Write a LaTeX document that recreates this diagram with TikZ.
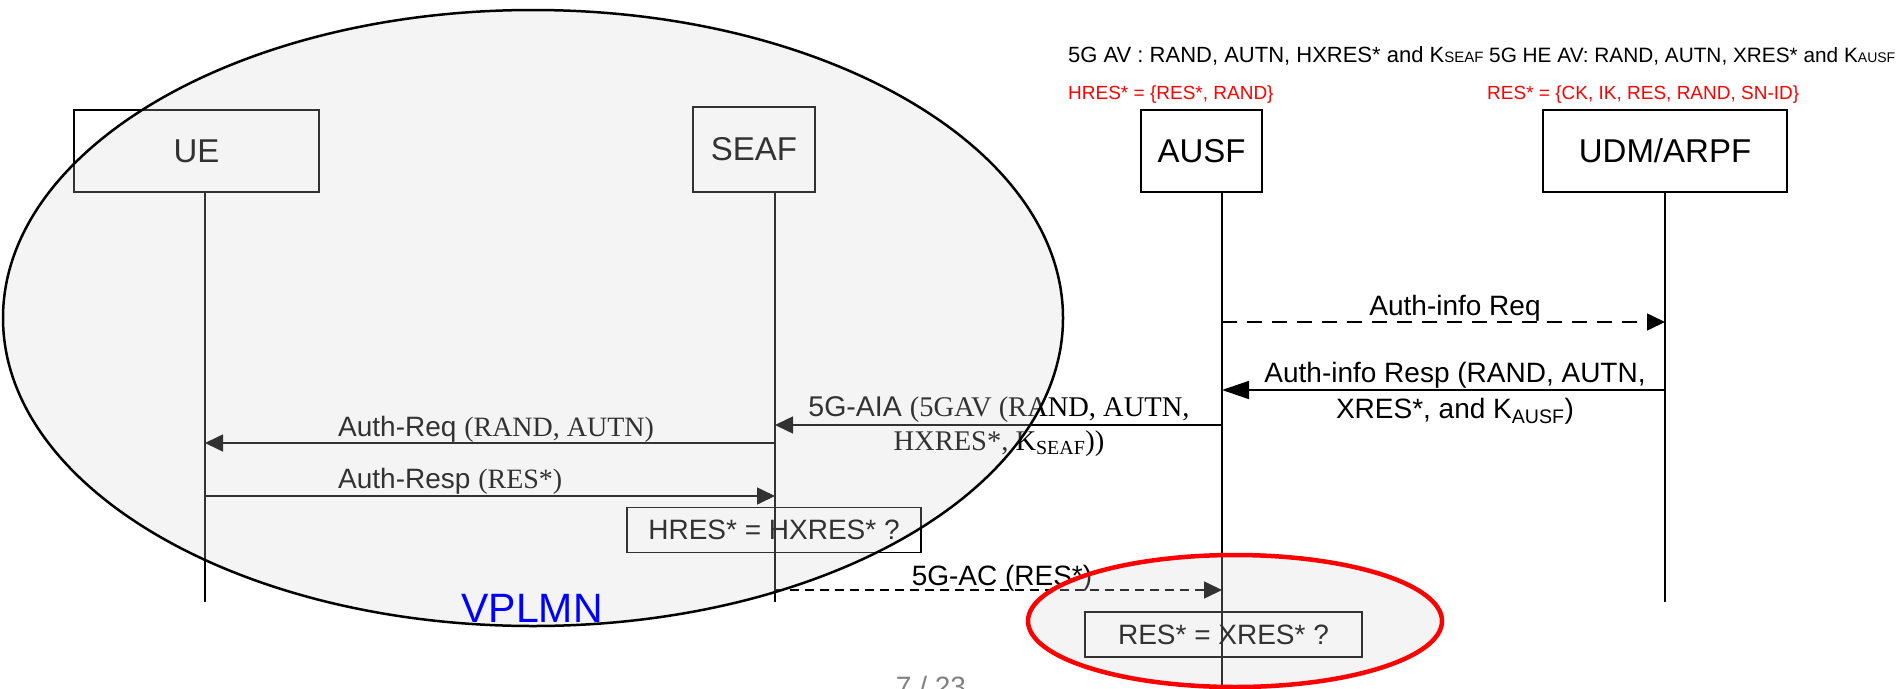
\documentclass[tikz,border=0pt]{standalone}
\usepackage{fontspec}
\setmainfont{Liberation Sans}
\newfontfamily\tnr{Liberation Serif}
\usetikzlibrary{arrows.meta,positioning}
\definecolor{vshade}{HTML}{D2D2D2}
\definecolor{vblue}{HTML}{0000FF}
\definecolor{vred}{HTML}{FF0000}
\definecolor{pgnum}{HTML}{808080}
\newcommand{\setfs}[2]{\fontsize{#1}{#2}\selectfont}

\begin{document}
\begin{tikzpicture}[x=1pt,y=-1pt,
  entity/.style={draw,line width=1.8pt,inner sep=0pt,minimum height=82pt,font=\setfs{33}{36}},
  life/.style={line width=1.5pt},
  msg/.style={line width=1.6pt,-{Triangle[length=18pt,width=17pt]}},
  dmsg/.style={msg,dash pattern=on 15pt off 10pt},
  lbl/.style={inner sep=0pt,font=\setfs{28}{36}},
  check/.style={draw,line width=1.8pt,inner sep=0pt,minimum height=45pt,font=\setfs{28}{32}},
  note/.style={inner sep=0pt,anchor=base west,font=\setfs{22}{24}},
  rednote/.style={note,text=vred,font=\setfs{19}{22}},
  zone/.style={line width=2.5pt,fill=vshade,fill opacity=0.24}]
  \useasboundingbox (0,0) rectangle (1897,688);

  % entities and lifelines
  \node[entity,minimum width=245pt] (ue) at (196.5,151) {UE};
  \node[entity,minimum width=122pt,minimum height=85pt] (seaf) at (754,149.5) {SEAF};
  \node[entity,minimum width=121pt] (ausf) at (1201.5,151) {AUSF};
  \node[entity,minimum width=244pt] (udm) at (1665,151) {UDM/ARPF};
  \foreach \n/\x/\e in {ue/205/602,seaf/775/602,ausf/1222/688,udm/1665/602}{
    \coordinate (\n-top) at (\x,192);
    \coordinate (\n-end) at (\x,\e);
    \draw[life] (\n-top) -- (\n-end);
  }

  % annotations above the home network
  \node[note] (avnote) at (1068,62) {5G AV : RAND, AUTN, HXRES* and K{\setfs{15}{16}SEAF}};
  \node[note,font=\setfs{20.8}{24}] (heavnote) at (1489,62) {5G HE AV: RAND, AUTN, XRES* and K{\setfs{14}{16}AUSF}};
  \node[rednote] (hresnote) at (1068,99) {HRES* = \{RES*, RAND\}};
  \node[rednote] (resnote) at (1487,99) {RES* = \{CK, IK, RES, RAND, SN-ID\}};

  % messages
  \draw[dmsg] (ausf-top |- 0,322) -- (udm-top |- 0,322);
  \node[lbl,anchor=base] (reqlbl) at (1455,315) {Auth-info Req};
  \draw[msg,-{Triangle[length=27pt,width=18pt]}] (udm-top |- 0,390) -- (ausf-top |- 0,390);
  \node[lbl,align=center,anchor=north] (resplbl) at (1455,362)
    {Auth-info Resp (RAND, AUTN,\\XRES*, and K\textsubscript{AUSF})};
  \draw[msg] (ausf-top |- 0,425) -- (seaf-top |- 0,425);
  \node[lbl,align=center,anchor=north,font=\setfs{28.5}{34}] (aialbl) at (999,396)
    {5G-AIA {\tnr(5GAV (RAND, AUTN,}\\{\tnr HXRES*, K\textsubscript{SEAF}))}};
  \draw[msg] (seaf-top |- 0,443) -- (ue-top |- 0,443);
  \node[lbl,anchor=base west] (authreqlbl) at (338,436) {Auth-Req {\tnr(RAND, AUTN)}};
  \draw[msg] (ue-top |- 0,496) -- (seaf-top |- 0,496);
  \node[lbl,anchor=base west] (authresplbl) at (338,488) {Auth-Resp {\tnr(RES*)}};
  \node[check,minimum width=294pt] (hcheck) at (774,530) {HRES* = HXRES* ?};
  \draw[msg,dash pattern=on 9pt off 6pt] (seaf-top |- 0,590) -- (ausf-top |- 0,590);
  \node[lbl,anchor=base] (aclbl) at (1002,585) {5G-AC (RES*)};
  \node[check,minimum width=277pt] (xcheck) at (1223.5,634.5) {RES* = XRES* ?};

  % serving network and home check
  \draw[zone] (533,318) ellipse [x radius=530pt,y radius=308pt];
  \node[inner sep=0pt,font=\setfs{41}{44},text=vblue] (vplmn) at (532,608) {VPLMN};
  \draw[zone,draw=vred,line width=4.5pt] (1235,621) ellipse [x radius=207pt,y radius=66pt];

  \node[lbl,anchor=north,text=pgnum] (pagenum) at (931,676) {7 / 23};
\end{tikzpicture}
\end{document}
